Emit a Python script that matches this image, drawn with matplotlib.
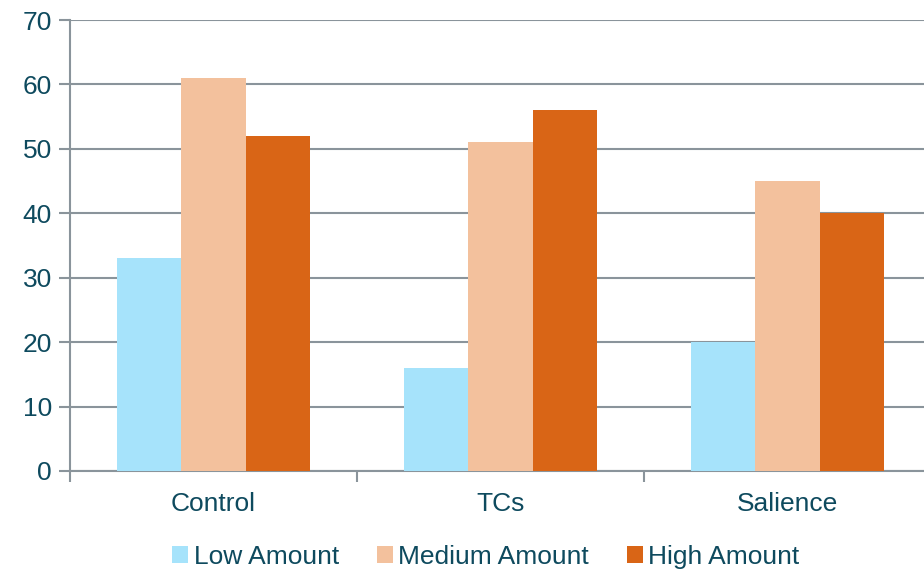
import matplotlib
matplotlib.use("Agg")
import matplotlib.pyplot as plt
import numpy as np

categories = ["Control", "TCs", "Salience"]
series_names = ["Low Amount", "Medium Amount", "High Amount"]
low_vals = [33, 16, 20]
medium_vals = [61, 51, 45]
high_vals = [52, 56, 40]
y_ticks = [0, 10, 20, 30, 40, 50, 60, 70]

colors = ["#A6E3FB", "#F3C19D", "#D96516"]
text_col = "#0E4A5E"
grid_col = "#8A949B"

plt.rcParams['font.family'] = ['Liberation Sans', 'DejaVu Sans']
plt.rcParams['font.size'] = 19

fig = plt.figure(figsize=(9.24, 5.72), dpi=100)
ax = fig.add_axes([70 / 924, 101 / 572, 861 / 924, 451 / 572])

x = np.arange(len(categories))
w = 0.223
for i, (vals, name) in enumerate(zip([low_vals, medium_vals, high_vals], series_names)):
    ax.bar(x + (i - 1) * w, vals, width=w, color=colors[i], label=name, zorder=3)

ax.set_xlim(-0.5, 2.5)
ax.set_ylim(0, 70)
ax.set_yticks(y_ticks)
ax.yaxis.grid(True, color=grid_col, linewidth=1.5, zorder=0)
ax.set_axisbelow(True)

# category labels centred, tick marks on the boundaries
ax.set_xticks(x)
ax.set_xticklabels(categories, color=text_col)
ax.tick_params(axis='x', length=0, pad=15)
ax.set_xticks([-0.5, 0.5, 1.5], minor=True)
ax.tick_params(axis='x', which='minor', length=8, width=1.5, color=grid_col)
ax.tick_params(axis='y', length=8, width=1.5, color=grid_col, labelcolor=text_col, pad=5)

for s in ['top', 'right']:
    ax.spines[s].set_visible(False)
for s in ['left', 'bottom']:
    ax.spines[s].set_color(grid_col)
    ax.spines[s].set_linewidth(1.5)

leg = fig.legend(loc='center', bbox_to_anchor=(486 / 924, 15 / 572), ncol=3, frameon=False,
                 handlelength=0.6, handleheight=0.6, handletextpad=0.2, columnspacing=1.45)
for t in leg.get_texts():
    t.set_color(text_col)

fig.savefig("out.png", dpi=100)
